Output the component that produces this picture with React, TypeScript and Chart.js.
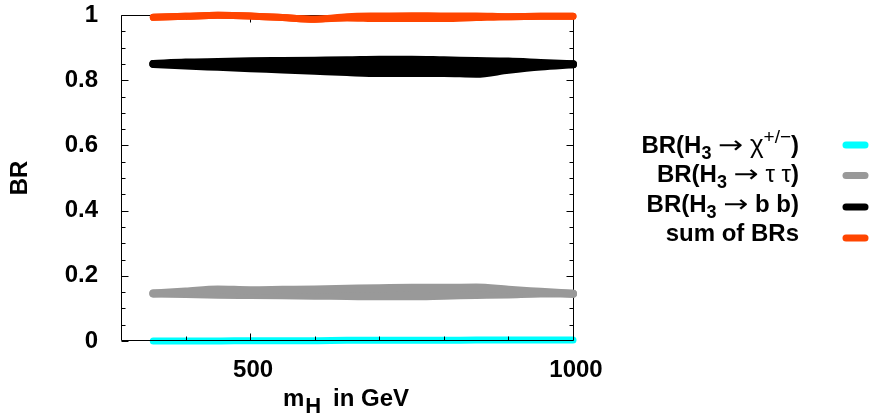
import React, { useEffect, useRef } from 'react';
import { Chart, registerables } from 'chart.js';

Chart.register(...registerables);

// ---- data ----
const MASS_GEV = [350, 400, 450, 500, 550, 600, 650, 700, 750, 800, 850, 900, 950, 1000];

const BR_CHI = [0.0, 0.0, 0.0, 0.001, 0.001, 0.001, 0.002, 0.002, 0.002, 0.002, 0.003, 0.003, 0.003, 0.003];

const BR_TAU_UPPER = [0.146, 0.152, 0.158, 0.156, 0.157, 0.158, 0.160, 0.162, 0.163, 0.163, 0.164, 0.157, 0.151, 0.145];
const BR_TAU_LOWER = [0.146, 0.144, 0.142, 0.141, 0.140, 0.139, 0.138, 0.137, 0.137, 0.139, 0.141, 0.143, 0.146, 0.145];

const BR_BB_UPPER = [0.850, 0.854, 0.856, 0.858, 0.859, 0.860, 0.861, 0.863, 0.863, 0.861, 0.859, 0.857, 0.853, 0.849];
const BR_BB_LOWER = [0.850, 0.845, 0.841, 0.837, 0.833, 0.829, 0.825, 0.822, 0.822, 0.822, 0.820, 0.832, 0.842, 0.849];

const BR_SUM_UPPER = [0.993, 0.996, 0.999, 0.997, 0.992, 0.987, 0.995, 0.997, 0.998, 0.997, 0.997, 0.995, 0.996, 0.996];
const BR_SUM_LOWER = [0.993, 0.996, 0.999, 0.997, 0.992, 0.987, 0.991, 0.989, 0.989, 0.989, 0.992, 0.995, 0.996, 0.996];

const X_TICK_VALUES = [500, 1000];
const X_TICK_LABELS = ['500', '1000'];
const Y_TICK_VALUES = [0, 0.2, 0.4, 0.6, 0.8, 1];
const Y_TICK_LABELS = ['0', '0.2', '0.4', '0.6', '0.8', '1'];
const X_MINOR_STEP = 100;
const Y_MINOR_STEP = 0.05;
const Y_MAJOR_STEP = 0.2;

const Y_TITLE = 'BR';
const X_TITLE_MAIN = 'm';
const X_TITLE_SUB = 'H';
const X_TITLE_REST = 'in GeV';

type Seg = { t: string; bold?: boolean; size?: number; dy?: number; family?: string; sx?: number };

const ARROW_FAMILY = '"DejaVu Sans", sans-serif';

const LEGEND_ROWS: Seg[][] = [
  [{ t: 'BR(H', bold: true }, { t: '3', bold: true, size: 18, dy: 6 }, { t: ' ' }, { t: '\u2192', family: ARROW_FAMILY, sx: 1.25 }, { t: ' ' }, { t: '\u03C7', size: 26 }, { t: '+/\u2212', size: 19, dy: -10 }, { t: ')', bold: true }],
  [{ t: 'BR(H', bold: true }, { t: '3', bold: true, size: 18, dy: 6 }, { t: ' ' }, { t: '\u2192', family: ARROW_FAMILY, sx: 1.25 }, { t: ' ' }, { t: '\u03C4 \u03C4' }, { t: ')', bold: true }],
  [{ t: 'BR(H', bold: true }, { t: '3', bold: true, size: 18, dy: 6 }, { t: ' ' }, { t: '\u2192', family: ARROW_FAMILY, sx: 1.25 }, { t: ' ' }, { t: 'b b)', bold: true }],
  [{ t: 'sum of BRs', bold: true }],
];

const COLORS = {
  chi: '#00ffff',
  tau: '#999999',
  bb: '#000000',
  sum: '#ff4500',
};
const LEGEND_COLORS = [COLORS.chi, COLORS.tau, COLORS.bb, COLORS.sum];

const FONT_FAMILY = '"Liberation Sans", Arial, Helvetica, "DejaVu Sans", sans-serif';

function fontStr(s: Seg, base = 24) {
  return `${s.bold ? 'bold ' : ''}${s.size ?? base}px ${s.family ?? FONT_FAMILY}`;
}

function drawRich(ctx: CanvasRenderingContext2D, segs: Seg[], xRight: number, baseline: number) {
  let total = 0;
  const widths = segs.map((s) => {
    ctx.font = fontStr(s);
    const w = ctx.measureText(s.t).width * (s.sx ?? 1);
    total += w;
    return w;
  });
  let x = xRight - total;
  ctx.textAlign = 'left';
  ctx.textBaseline = 'alphabetic';
  segs.forEach((s, i) => {
    ctx.font = fontStr(s);
    ctx.save();
    ctx.translate(x, baseline + (s.dy ?? 0));
    ctx.scale(s.sx ?? 1, 1);
    ctx.fillText(s.t, 0, 0);
    ctx.restore();
    x += widths[i];
  });
}

const framePlugin = {
  id: 'frame',
  beforeDatasetsDraw(chart: any) {
    const { ctx, chartArea: a, scales } = chart;
    const x = scales.x;
    const y = scales.y;
    const L = Math.round(a.left) + 0.5;
    const R = Math.round(a.right) + 0.5;
    const T = Math.round(a.top) + 0.5;
    const B = Math.round(a.bottom) - 0.5;
    ctx.save();
    ctx.strokeStyle = '#000';
    ctx.lineWidth = 1;
    ctx.beginPath();
    ctx.moveTo(L, B);
    ctx.lineTo(L, T);
    ctx.lineTo(R, T);
    ctx.lineTo(R, B);
    ctx.stroke();
    ctx.beginPath();
    for (let v = 0; v <= 1.0001; v += Y_MINOR_STEP) {
      const vv = Math.round(v * 100) / 100;
      const isMajor = Math.abs(vv / Y_MAJOR_STEP - Math.round(vv / Y_MAJOR_STEP)) < 1e-6;
      const len = isMajor ? 7 : 4;
      const py = Math.round(y.getPixelForValue(vv)) + 0.5;
      ctx.moveTo(L, py);
      ctx.lineTo(L + len, py);
      ctx.moveTo(R, py);
      ctx.lineTo(R - len, py);
    }
    for (let m = x.min + X_MINOR_STEP; m <= x.max; m += X_MINOR_STEP) {
      const isMajor = X_TICK_VALUES.includes(m);
      const len = isMajor ? 7 : 4;
      const px = Math.round(x.getPixelForValue(m)) + 0.5;
      ctx.moveTo(px, T);
      ctx.lineTo(px, T + len);
    }
    ctx.stroke();
    ctx.restore();
  },
  afterDatasetsDraw(chart: any) {
    const { ctx, chartArea: a, scales } = chart;
    const x = scales.x;
    const L = Math.round(a.left) + 0.5;
    const R = Math.round(a.right) + 0.5;
    const B = Math.round(a.bottom) - 0.5;
    ctx.save();
    ctx.strokeStyle = '#000';
    ctx.lineWidth = 1;
    ctx.beginPath();
    ctx.moveTo(L, B);
    ctx.lineTo(R, B);
    for (let m = x.min + X_MINOR_STEP; m <= x.max; m += X_MINOR_STEP) {
      const isMajor = X_TICK_VALUES.includes(m);
      const len = isMajor ? 7 : 4;
      const px = Math.round(x.getPixelForValue(m)) + 0.5;
      ctx.moveTo(px, B);
      ctx.lineTo(px, B - len);
    }
    ctx.stroke();
    ctx.restore();
  },
  afterDraw(chart: any) {
    const { ctx, chartArea: a } = chart;
    ctx.save();
    ctx.fillStyle = '#000';
    ctx.font = `bold 24px ${FONT_FAMILY}`;
    ctx.translate(27, (a.top + a.bottom) / 2);
    ctx.rotate(-Math.PI / 2);
    ctx.textAlign = 'center';
    ctx.textBaseline = 'alphabetic';
    ctx.fillText(Y_TITLE, 0, 0);
    ctx.restore();

    ctx.save();
    ctx.fillStyle = '#000';
    ctx.textAlign = 'left';
    ctx.textBaseline = 'alphabetic';
    ctx.font = `bold 24px ${FONT_FAMILY}`;
    ctx.fillText(X_TITLE_MAIN, 283, 406);
    const mw = ctx.measureText(X_TITLE_MAIN).width;
    ctx.font = `bold 22px ${FONT_FAMILY}`;
    ctx.fillText(X_TITLE_SUB, 283 + mw + 1, 413);
    ctx.font = `bold 24px ${FONT_FAMILY}`;
    ctx.fillText(X_TITLE_REST, 333, 406);

    const baselines = [153, 182, 212, 241];
    const sampleY = [145, 175.5, 207, 238];
    LEGEND_ROWS.forEach((segs, i) => {
      ctx.fillStyle = '#000';
      drawRich(ctx, segs, 799, baselines[i]);
      ctx.strokeStyle = LEGEND_COLORS[i];
      ctx.lineWidth = 7;
      ctx.lineCap = 'round';
      ctx.beginPath();
      ctx.moveTo(846, sampleY[i]);
      ctx.lineTo(865, sampleY[i]);
      ctx.stroke();
    });
    ctx.restore();
  },
};

function bandDatasets(label: string, upper: number[], lower: number[], color: string, width: number) {
  const common = {
    borderColor: color,
    backgroundColor: color,
    borderWidth: width,
    borderCapStyle: 'round' as const,
    borderJoinStyle: 'round' as const,
    pointRadius: 0,
    cubicInterpolationMode: 'monotone' as const,
    clip: false as const,
  };
  return [
    { ...common, label: label + ' upper', data: MASS_GEV.map((m, i) => ({ x: m, y: upper[i] })), fill: false },
    { ...common, label: label + ' lower', data: MASS_GEV.map((m, i) => ({ x: m, y: lower[i] })), fill: '-1' },
  ];
}

function zeroPadding(s: any) {
  s.paddingTop = 0;
  s.paddingBottom = 0;
  s.paddingLeft = 0;
  s.paddingRight = 0;
}

export default function App() {
  const ref = useRef<HTMLCanvasElement | null>(null);

  useEffect(() => {
    if (!ref.current) return;
    const chart = new Chart(ref.current, {
      type: 'line',
      data: {
        datasets: [
          {
            label: 'chi',
            data: MASS_GEV.map((m, i) => ({ x: m, y: BR_CHI[i] })),
            borderColor: COLORS.chi,
            backgroundColor: COLORS.chi,
            borderWidth: 7,
            borderCapStyle: 'round',
            borderJoinStyle: 'round',
            pointRadius: 0,
            fill: false,
            cubicInterpolationMode: 'monotone',
            clip: false,
          } as any,
          ...bandDatasets('tau', BR_TAU_UPPER, BR_TAU_LOWER, COLORS.tau, 8),
          ...bandDatasets('bb', BR_BB_UPPER, BR_BB_LOWER, COLORS.bb, 8),
          ...bandDatasets('sum', BR_SUM_UPPER, BR_SUM_LOWER, COLORS.sum, 7),
        ] as any,
      },
      options: {
        responsive: false,
        animation: false,
        devicePixelRatio: 1,
        layout: { padding: { left: 0, top: 15, right: 297, bottom: 0 } },
        plugins: {
          legend: { display: false },
          tooltip: { enabled: false },
          filler: { propagate: false },
        },
        scales: {
          x: {
            type: 'linear',
            min: 300,
            max: 1000,
            grid: { display: false },
            border: { display: false },
            afterBuildTicks: (s: any) => {
              s.ticks = X_TICK_VALUES.map((v) => ({ value: v }));
            },
            afterFit: (s: any) => {
              s.height = 76;
              zeroPadding(s);
            },
            ticks: {
              autoSkip: false,
              maxRotation: 0,
              padding: 7,
              labelOffset: 3,
              color: '#000',
              font: { family: FONT_FAMILY, size: 24, weight: 'bold' },
              callback: (v: any) => {
                const i = X_TICK_VALUES.indexOf(Number(v));
                return i >= 0 ? X_TICK_LABELS[i] : '';
              },
            },
          },
          y: {
            type: 'linear',
            min: 0,
            max: 1,
            grid: { display: false },
            border: { display: false },
            afterBuildTicks: (s: any) => {
              s.ticks = Y_TICK_VALUES.map((v) => ({ value: v }));
            },
            afterFit: (s: any) => {
              s.width = 121;
              zeroPadding(s);
            },
            ticks: {
              padding: 15,
              color: '#000',
              font: { family: FONT_FAMILY, size: 24, weight: 'bold' },
              callback: (v: any) => {
                const i = Y_TICK_VALUES.findIndex((t) => Math.abs(t - Number(v)) < 1e-9);
                return i >= 0 ? Y_TICK_LABELS[i] : '';
              },
            },
          },
        },
      } as any,
      plugins: [framePlugin],
    });
    return () => chart.destroy();
  }, []);

  return (
    <div style={{ position: 'absolute', left: 0, top: 0, width: 870, height: 417, background: '#fff' }}>
      <canvas ref={ref} width={870} height={417} style={{ width: 870, height: 417, display: 'block' }} />
    </div>
  );
}
